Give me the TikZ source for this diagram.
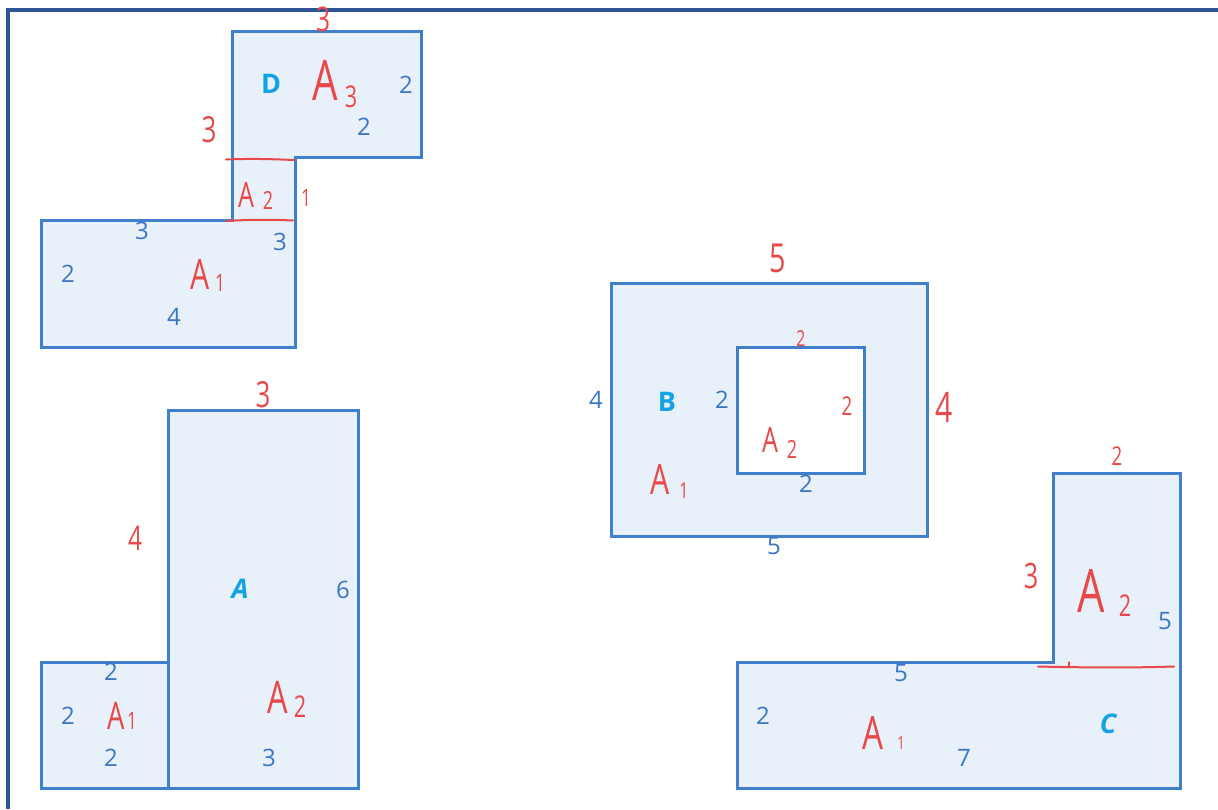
\documentclass[tikz,border=0pt]{standalone}
\usepackage{fontspec}
\usepackage{graphicx}
\setmainfont{Open Sans}
\definecolor{frameblue}{HTML}{2F5597}
\definecolor{edgeblue}{HTML}{3F7FCC}
\definecolor{fillblue}{HTML}{E8F0FA}
\definecolor{labblue}{HTML}{3A76C4}
\definecolor{cyanlab}{HTML}{12A2E6}
\definecolor{redhand}{HTML}{E84848}
\newcommand\hw[2]{\scalebox{0.72}[1]{\fontsize{#1}{#1}\selectfont #2}}
\begin{document}
\begin{tikzpicture}[x=1pt,y=-1pt,
  region/.style={draw=edgeblue, fill=fillblue, line width=3pt, line join=miter},
  num/.style={text=labblue, font=\fontsize{24}{24}\selectfont, inner sep=0pt},
  letter/.style={text=cyanlab, font=\fontsize{27}{27}\selectfont\bfseries, inner sep=0pt},
  hand/.style={text=redhand, inner sep=0pt},
  redline/.style={draw=redhand, line width=2pt, line cap=round}]
\useasboundingbox (0,0) rectangle (1218,809);
% frame
\draw[frameblue, line width=4pt] (8,809) -- (8,9.5) -- (1218,9.5);

% ---------- D ----------
\draw[region] (232,31) -- (421,31) -- (421,157) -- (295,157) -- (295,347)
  -- (41,347) -- (41,220) -- (232,220) -- cycle;
\draw[redline] (226,159.5) .. controls (250,158.5) and (270,159) .. (294,160);
\draw[redline] (226,221) .. controls (250,219.5) and (272,219.5) .. (293,220.5);
\node[letter] (dD) at (271,84) {D};
\node[hand] (dA3) at (325,80) {\hw{56}{A}};
\node[hand] (dA3s) at (351,97) {\hw{30}{3}};
\node[num] (d2a) at (406,85) {2};
\node[num] (d2b) at (364,127) {2};
\node[hand] (d3top) at (323,19) {\hw{34}{3}};
\node[hand] (d3left) at (209,130) {\hw{36}{3}};
\node[hand] (dA2) at (246,195) {\hw{35}{A}};
\node[hand] (dA2s) at (268,200) {\hw{25}{2}};
\node[hand] (d1) at (306,198) {\hw{24}{1}};
\node[num] (d3a) at (142,231) {3};
\node[num] (d3b) at (280,242) {3};
\node[num] (d2c) at (68,274) {2};
\node[hand] (dA1) at (200,274) {\hw{42}{A}};
\node[hand] (dA1s) at (220,283) {\hw{24}{1}};
\node[num] (d4) at (174,317) {4};

% ---------- A ----------
\draw[region] (168,410) rectangle (358,788);
\draw[region] (41,662) rectangle (168,788);
\node[hand] (a3top) at (263,395) {\hw{36}{3}};
\node[hand] (a4) at (135,538) {\hw{34}{4}};
\node[letter] (aA) at (240,589) {\itshape A};
\node[num] (a6) at (343,590) {6};
\node[num] (a2a) at (111,672) {2};
\node[num] (a2b) at (68,716) {2};
\node[hand] (aA1) at (116,716) {\hw{38}{A}};
\node[hand] (aA1s) at (132,721) {\hw{24}{1}};
\node[num] (a2c) at (111,758) {2};
\node[hand] (aA2) at (278,697) {\hw{45}{A}};
\node[hand] (aA2s) at (300,707) {\hw{30}{2}};
\node[num] (a3) at (269,758) {3};

% ---------- B ----------
\draw[region] (611,283) rectangle (927,536);
\draw[draw=edgeblue, fill=white, line width=3pt] (737,347) rectangle (864,473);
\node[hand] (b5top) at (778,258) {\hw{40}{5}};
\node[hand] (b2top) at (801,339) {\hw{22}{2}};
\node[num] (b4) at (596,400) {4};
\node[letter] (bB) at (667,402) {B};
\node[num] (b2a) at (722,400) {2};
\node[hand] (b2r) at (847,406) {\hw{26}{2}};
\node[hand] (b4r) at (944,407) {\hw{42}{4}};
\node[hand] (bA2) at (770,440) {\hw{35}{A}};
\node[hand] (bA2s) at (792,449) {\hw{25}{2}};
\node[num] (b2b) at (806,484) {2};
\node[hand] (bA1) at (660,479) {\hw{42}{A}};
\node[hand] (bA1s) at (684,491) {\hw{22}{1}};
\node[num] (b5) at (774,546) {5};

% ---------- C ----------
\draw[region] (1053,473) -- (1180,473) -- (1180,788) -- (737,788) -- (737,662)
  -- (1053,662) -- cycle;
\draw[redline] (1038,666.5) .. controls (1080,667.5) and (1130,668) .. (1174,666.5);
\draw[redline, line width=1.2pt] (1069,662) -- (1069,667);
\node[hand] (c2top) at (1117,456) {\hw{26}{2}};
\node[hand] (c3) at (1031,576) {\hw{35}{3}};
\node[hand] (cA2) at (1091,591) {\hw{60}{A}};
\node[hand] (cA2s) at (1125,606) {\hw{30}{2}};
\node[num] (c5a) at (1165,621) {5};
\node[num] (c5b) at (901,673) {5};
\node[num] (c2) at (763,716) {2};
\node[hand] (cA1) at (873,733) {\hw{46}{A}};
\node[hand] (cA1s) at (901,743) {\hw{18}{1}};
\node[num] (c7) at (964,758) {7};
\node[letter] (cC) at (1108,724) {\itshape C};
\end{tikzpicture}
\end{document}
